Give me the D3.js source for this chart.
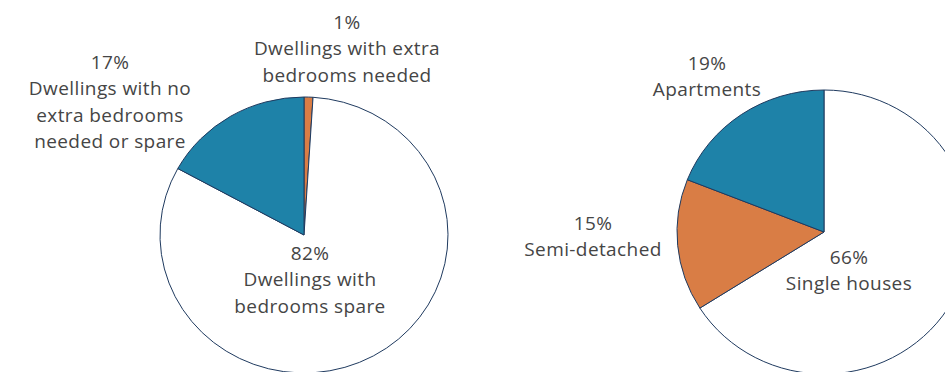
<!DOCTYPE html>
<html>
<head>
<meta charset="utf-8">
<script src="https://cdn.jsdelivr.net/npm/d3@7"></script>
<style>
  body { margin: 0; background: #fff; }
  text { font-family: "Open Sans", sans-serif; font-size: 19px; letter-spacing: 0.4px; fill: #454545; }
</style>
</head>
<body>
<script>
// left pie: bedroom need
var bedroomNames = ["Dwellings with extra bedrooms needed", "Dwellings with bedrooms spare", "Dwellings with no extra bedrooms needed or spare"];
var bedroomValues = [1, 82, 17];
var bedroomLines = [["Dwellings with extra", "bedrooms needed"], ["Dwellings with", "bedrooms spare"], ["Dwellings with no", "extra bedrooms", "needed or spare"]];

// right pie: dwelling type
var typeNames = ["Single houses", "Semi-detached", "Apartments"];
var typeValues = [66, 15, 19];
var typeLines = [["Single houses"], ["Semi-detached"], ["Apartments"]];

var fills = ["#D97D45", "#FFFFFF", "#1E82A8"];
var typeFills = ["#FFFFFF", "#D97D45", "#1E82A8"];

var width = 945, height = 372;

var svg = d3.select("body").append("svg")
    .attr("width", width)
    .attr("height", height);

var pie = d3.pie()
    .sort(null)
    .value(function(d){ return d; });

// label spots (relative to pie centre) for each slice
var charts = [
  {values: bedroomValues, lines: bedroomLines, fills: fills, cx: 304, cy: 235, rx: 144, ry: 138,
   labels: [[43, -213], [6, 18], [-194, -173]]},
  {values: typeValues, lines: typeLines, fills: typeFills, cx: 824, cy: 232, rx: 147, ry: 142,
   labels: [[25, 25], [-231, -9], [-117, -169]]}
];

charts.forEach(function(c){
  var arc = d3.arc().outerRadius(c.rx).innerRadius(0);

  var g = svg.append("g")
      .attr("transform", "translate(" + c.cx + "," + c.cy + ") scale(1," + (c.ry / c.rx) + ")");

  g.selectAll("path")
      .data(pie(c.values))
      .enter().append("path")
      .attr("d", arc)
      .style("fill", function(d, i){ return c.fills[i]; })
      .style("stroke", "#1F3A5F")
      .style("stroke-width", 1)
      .attr("vector-effect", "non-scaling-stroke");

  var lg = svg.append("g")
      .attr("transform", "translate(" + c.cx + "," + c.cy + ")");

  c.values.forEach(function(v, i){
    var t = lg.append("text")
        .attr("text-anchor", "middle")
        .attr("x", c.labels[i][0])
        .attr("y", c.labels[i][1]);
    var rows = [v + "%"].concat(c.lines[i]);
    rows.forEach(function(r, j){
      t.append("tspan")
          .attr("x", c.labels[i][0])
          .attr("dy", j === 0 ? "0.35em" : 26.5)
          .text(r);
    });
  });
});
</script>
</body>
</html>
